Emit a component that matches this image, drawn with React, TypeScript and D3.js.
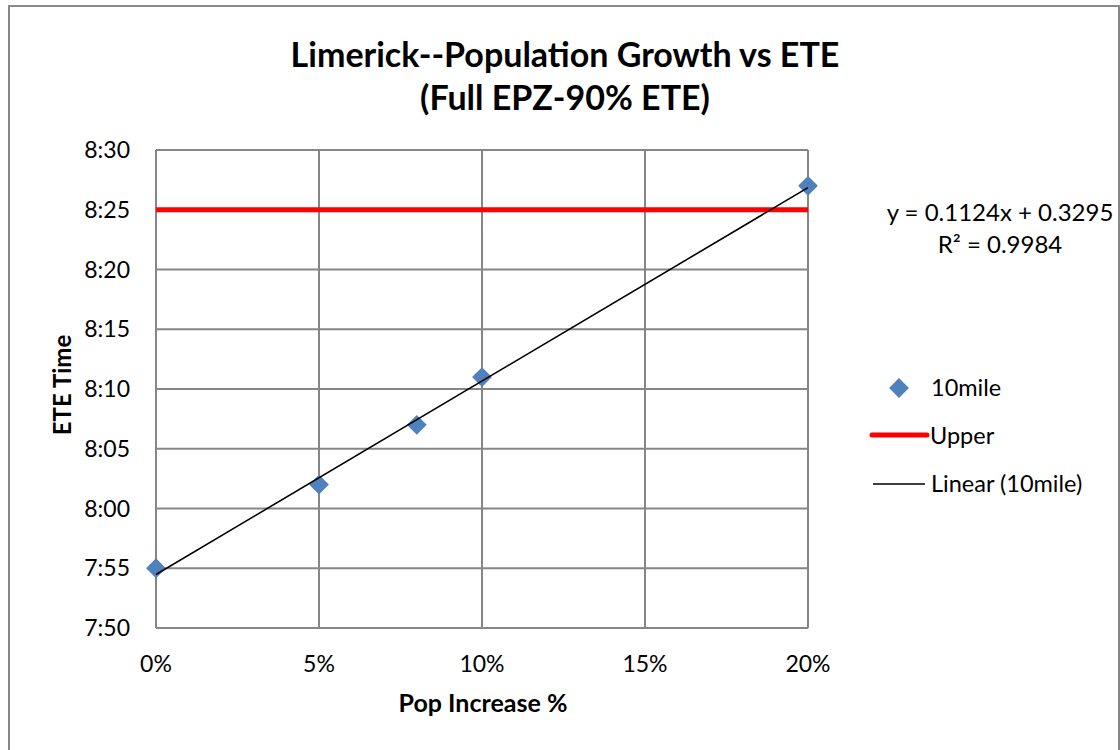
import React from "react";
import * as d3 from "d3";

const popIncrease = [0, 0.05, 0.08, 0.1, 0.2];
const eteTimes = ["7:55", "8:02", "8:07", "8:11", "8:27"];
const upperTime = "8:25";
const xTicks = [0, 0.05, 0.1, 0.15, 0.2];
const yTickLabels = ["7:50", "7:55", "8:00", "8:05", "8:10", "8:15", "8:20", "8:25", "8:30"];
const trendSlope = 0.1124;
const trendIntercept = 0.3295;
const equationText = "y = 0.1124x + 0.3295";
const r2Text = "R² = 0.9984";
const legendLabels = ["10mile", "Upper", "Linear (10mile)"];

const toMin = (s: string) => {
  const [h, m] = s.split(":").map(Number);
  return h * 60 + m;
};

const FONT = "Lato, 'Open Sans', sans-serif";
const GRID = "#868686";

export default function App() {
  const left = 156, right = 808, top = 150, bottom = 628;
  const x = d3.scaleLinear().domain([0, 0.2]).range([left, right]);
  const y = d3.scaleLinear().domain([toMin("7:50"), toMin("8:30")]).range([bottom, top]);
  const diamond = d3.symbol().type(d3.symbolDiamond2).size(250)();
  const trend = d3.line<number>()
    .x((d) => x(d))
    .y((d) => y((trendSlope * d + trendIntercept) * 1440));
  const trendPts = [0, 0.2];

  return (
    <svg
      width={1120}
      height={750}
      style={{ position: "absolute", left: 0, top: 0, display: "block", background: "#fff" }}
      fontFamily={FONT}
    >
      <rect x={9} y={6} width={1110} height={770} fill="#fff" stroke="#898989" strokeWidth={2} />
      <text x={565} y={67} textAnchor="middle" fontSize={34} fontWeight="bold" fill="#000">
        Limerick--Population Growth vs ETE
      </text>
      <text x={565} y={110} textAnchor="middle" fontSize={34} fontWeight="bold" fill="#000">
        (Full EPZ-90% ETE)
      </text>

      {yTickLabels.map((t) => (
        <line key={"h" + t} x1={left} x2={right} y1={y(toMin(t))} y2={y(toMin(t))} stroke={GRID} strokeWidth={2} />
      ))}
      {xTicks.map((t) => (
        <line key={"v" + t} x1={x(t)} x2={x(t)} y1={top} y2={bottom} stroke={GRID} strokeWidth={2} />
      ))}

      {yTickLabels.map((t) => (
        <text key={"yl" + t} x={130} y={y(toMin(t))} dy="0.35em" textAnchor="end" fontSize={23} fill="#000">
          {t}
        </text>
      ))}
      {xTicks.map((t) => (
        <text key={"xl" + t} x={x(t)} y={672} textAnchor="middle" fontSize={23} fill="#000">
          {d3.format(".0%")(t)}
        </text>
      ))}

      <text x={483} y={712} textAnchor="middle" fontSize={25} fontWeight="bold" fill="#000">
        Pop Increase %
      </text>
      <text
        transform={`translate(71,${385}) rotate(-90)`}
        textAnchor="middle"
        fontSize={24}
        fontWeight="bold"
        fill="#000"
      >
        ETE Time
      </text>

      <line x1={left} x2={right} y1={y(toMin(upperTime))} y2={y(toMin(upperTime))} stroke="#FF0000" strokeWidth={5} />

      {popIncrease.map((p, i) => (
        <path key={"m" + i} d={diamond} transform={`translate(${x(p)},${y(toMin(eteTimes[i]))})`} fill="#4F81BD" />
      ))}

      <path d={trend(trendPts) || ""} fill="none" stroke="#000" strokeWidth={1.6} />

      <text x={1000} y={221} textAnchor="middle" fontSize={24} fill="#000">{equationText}</text>
      <text x={1000} y={253} textAnchor="middle" fontSize={24} fill="#000">{r2Text}</text>

      <path d={diamond} transform="translate(899,388)" fill="#4F81BD" />
      <text x={931} y={396} fontSize={23.5} fill="#000">{legendLabels[0]}</text>
      <line x1={872} x2={927} y1={435} y2={435} stroke="#FF0000" strokeWidth={5} strokeLinecap="round" />
      <text x={930} y={444} fontSize={23.5} fill="#000">{legendLabels[1]}</text>
      <line x1={873} x2={925} y1={484} y2={484} stroke="#000" strokeWidth={1.6} />
      <text x={931} y={492} fontSize={23.5} fill="#000">{legendLabels[2]}</text>
    </svg>
  );
}
